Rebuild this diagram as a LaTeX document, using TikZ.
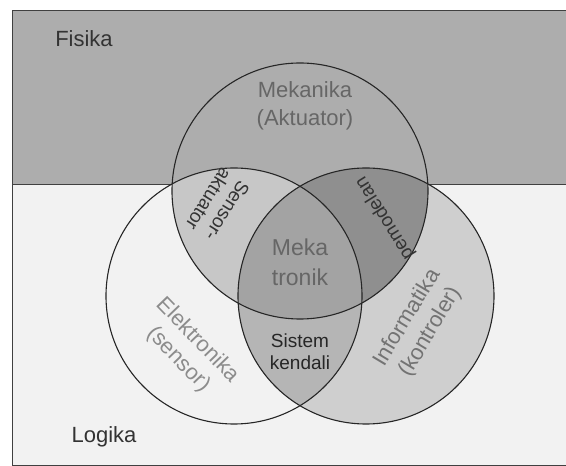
\documentclass[tikz,border=0pt]{standalone}
\usepackage{fontspec}
\setmainfont{Liberation Sans}
\usepackage{xcolor}
\usepackage{tikz}
\definecolor{band}{gray}{0.68}
\definecolor{logik}{gray}{0.95}
\definecolor{info}{gray}{0.81}
\definecolor{sensak}{gray}{0.78}
\definecolor{pemod}{gray}{0.56}
\definecolor{kendali}{gray}{0.71}
\definecolor{meka}{gray}{0.64}

\begin{document}
\begin{tikzpicture}[x=1pt,y=1pt,
		rim/.style={line width=1.1pt,color=black!85},
		frame/.style={line width=0.9pt,color=black!75},
		lbl/.style={align=center,inner sep=0pt}]
				\useasboundingbox (0,0) rectangle (566,466);
				\coordinate (ct) at (300,275);%Mekanika
				\coordinate (cl) at (234,170);%Elektronika
				\coordinate (cr) at (366,170);%Informatika
				\coordinate (f1) at (12,1);
				\coordinate (f2) at (566,456);
				\coordinate (f3) at (12,456);
				\coordinate (f4) at (566,1);
				\coordinate (s1) at (12,282);%Fisika/Logika
				\coordinate (s2) at (172.2,282);
				\coordinate (s3) at (427.8,282);
				\coordinate (s4) at (566,282);
				
				\fill[logik] (f1) rectangle (f2);
				\fill[band] (s1) rectangle (f2);
				\fill[band] (ct) circle (128pt);
				\fill[logik] (cl) circle (128pt);
				\fill[info] (cr) circle (128pt);
				\begin{scope}
					\clip (cl) circle (128pt);
					\fill[sensak] (ct) circle (128pt);
					\fill[kendali] (cr) circle (128pt);
				\end{scope}
				\begin{scope}
					\clip (cr) circle (128pt);
					\fill[pemod] (ct) circle (128pt);
				\end{scope}
				\begin{scope}
					\clip (cl) circle (128pt);
					\clip (cr) circle (128pt);
					\fill[meka] (ct) circle (128pt);
				\end{scope}
				
				\draw[frame] (f4) -- (f1) -- (f3) -- (f2);
				\draw[frame] (s1) -- (s2);
				\draw[frame] (s3) -- (s4);
				\draw[rim] (ct) circle (128pt);
				\draw[rim] (cl) circle (128pt);
				\draw[rim] (cr) circle (128pt);
				
				\node[lbl,color=black!80,font={\fontsize{22}{26}\selectfont}] (fis) at (84,427) {Fisika};
				\node[lbl,color=black!80,font={\fontsize{22}{26}\selectfont}] (log) at (104,29) {Logika};
				\node[lbl,color=black!60,font={\fontsize{22}{28}\selectfont}] (mek) at (305,360) {Mekanika\\(Aktuator)};
				\node[lbl,color=black!60,font={\fontsize{23}{30}\selectfont}] (mtr) at (300,204) {Meka\\tronik};
				\node[lbl,color=black!85,font={\fontsize{19}{22}\selectfont}] (sis) at (300,114) {Sistem\\kendali};
				\node[lbl,color=black!80,rotate=-122,font={\fontsize{19}{22}\selectfont}] (sak) at (218,261) {Sensor-\\aktuator};
				\node[lbl,color=black!80,rotate=122,font={\fontsize{19}{22}\selectfont}] (pem) at (385,248) {pemodelan};
				\node[lbl,color=black!45,rotate=-46,font={\fontsize{22}{27}\selectfont}] (ele) at (188,116) {Elektronika\\(sensor)};
				\node[lbl,color=black!55,rotate=59,font={\fontsize{22}{27}\selectfont}] (inf) at (419,141) {Informatika\\(kontroler)};
				
			\end{tikzpicture}
\end{document}
